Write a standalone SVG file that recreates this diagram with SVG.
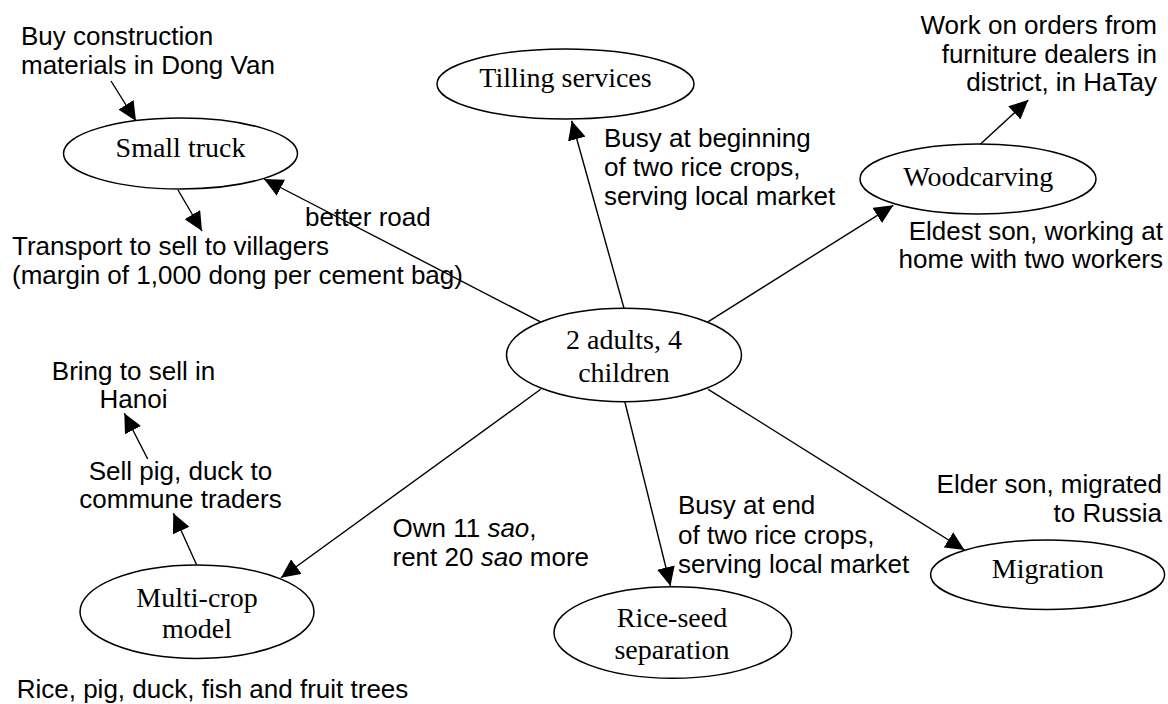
<svg xmlns="http://www.w3.org/2000/svg" width="1168" height="704" viewBox="0 0 1168 704">
<style>
.bg{fill:#ffffff}
.node ellipse{fill:#ffffff;stroke:#000000;stroke-width:1.5}
.nt{font-family:"Liberation Serif","Times New Roman",serif;font-size:28px;fill:#000000;text-anchor:middle}
.lb{font-family:"Liberation Sans",Arial,sans-serif;font-size:26px;fill:#000000}
.mid{text-anchor:middle}
.end{text-anchor:end}
#connectors line{stroke:#000000;stroke-width:1.4;fill:none;marker-end:url(#ah)}
</style>
<defs>
<marker id="ah" markerUnits="userSpaceOnUse" viewBox="0 0 19 18" markerWidth="19" markerHeight="18" refX="19" refY="9" orient="auto">
<path d="M0,0 L19,9 L0,18 Z" fill="#000000"/>
</marker>
</defs>
<rect class="bg" x="0" y="0" width="1168" height="704"/>

<g id="connectors">
<line x1="111" y1="81" x2="136" y2="121"/>
<line x1="178" y1="190" x2="202" y2="231"/>
<line x1="540" y1="321.7" x2="264" y2="179"/>
<line x1="624" y1="308.3" x2="571.7" y2="120.7"/>
<line x1="708.3" y1="321.7" x2="893.3" y2="205.3"/>
<line x1="980" y1="144.5" x2="1028.3" y2="100"/>
<line x1="540.7" y1="389.3" x2="281" y2="577.7"/>
<line x1="196.7" y1="565" x2="173.3" y2="513.3"/>
<line x1="147.7" y1="459" x2="124.3" y2="413.3"/>
<line x1="624.9" y1="402" x2="670.5" y2="586"/>
<line x1="708.2" y1="389.3" x2="964.5" y2="550"/>
</g>

<g id="node-small-truck" class="node">
<ellipse cx="180.5" cy="153.5" rx="117" ry="35.5"/>
<text class="nt" x="180.5" y="157">Small truck</text>
</g>
<g id="node-tilling" class="node">
<ellipse cx="565.5" cy="84" rx="128.5" ry="35"/>
<text class="nt" x="565.5" y="87">Tilling services</text>
</g>
<g id="node-woodcarving" class="node">
<ellipse cx="978" cy="179" rx="118" ry="35"/>
<text class="nt" x="978.3" y="186">Woodcarving</text>
</g>
<g id="node-household" class="node">
<ellipse cx="624" cy="355" rx="117.5" ry="46.7"/>
<text class="nt" x="624" y="349.3">2 adults, 4</text>
<text class="nt" x="624" y="381.7">children</text>
</g>
<g id="node-multicrop" class="node">
<ellipse cx="197" cy="611.7" rx="117" ry="46.7"/>
<text class="nt" x="197" y="606.7">Multi-crop</text>
<text class="nt" x="197" y="638.3">model</text>
</g>
<g id="node-riceseed" class="node">
<ellipse cx="672.8" cy="632.5" rx="118.8" ry="45.8"/>
<text class="nt" x="672" y="627">Rice-seed</text>
<text class="nt" x="672" y="659">separation</text>
</g>
<g id="node-migration" class="node">
<ellipse cx="1047.6" cy="574.7" rx="117" ry="34.7"/>
<text class="nt" x="1047.8" y="578">Migration</text>
</g>

<g id="labels">
<text class="lb" x="21" y="45">Buy construction</text>
<text class="lb" x="21" y="74">materials in Dong Van</text>
<text class="lb" x="12" y="255">Transport to sell to villagers</text>
<text class="lb" x="12" y="284">(margin of 1,000 dong per cement bag)</text>
<text class="lb" x="305" y="226">better road</text>
<text class="lb" x="604" y="147">Busy at beginning</text>
<text class="lb" x="604" y="176">of two rice crops,</text>
<text class="lb" x="604" y="205">serving local market</text>
<text class="lb end" x="1157" y="34">Work on orders from</text>
<text class="lb end" x="1157" y="63">furniture dealers in</text>
<text class="lb end" x="1157" y="91">district, in HaTay</text>
<text class="lb end" x="1163" y="240">Eldest son, working at</text>
<text class="lb end" x="1163" y="268">home with two workers</text>
<text class="lb mid" x="133.5" y="380">Bring to sell in</text>
<text class="lb mid" x="133.5" y="408">Hanoi</text>
<text class="lb mid" x="180.5" y="480">Sell pig, duck to</text>
<text class="lb mid" x="180.5" y="508">commune traders</text>
<text class="lb" x="392.5" y="537">Own 11 <tspan font-style="italic">sao</tspan>,</text>
<text class="lb" x="392.5" y="566">rent 20 <tspan font-style="italic">sao</tspan> more</text>
<text class="lb" x="678" y="514">Busy at end</text>
<text class="lb" x="678" y="544">of two rice crops,</text>
<text class="lb" x="678" y="573">serving local market</text>
<text class="lb end" x="1162" y="493">Elder son, migrated</text>
<text class="lb end" x="1162" y="522">to Russia</text>
<text class="lb" x="16.7" y="698">Rice, pig, duck, fish and fruit trees</text>
</g>
</svg>
